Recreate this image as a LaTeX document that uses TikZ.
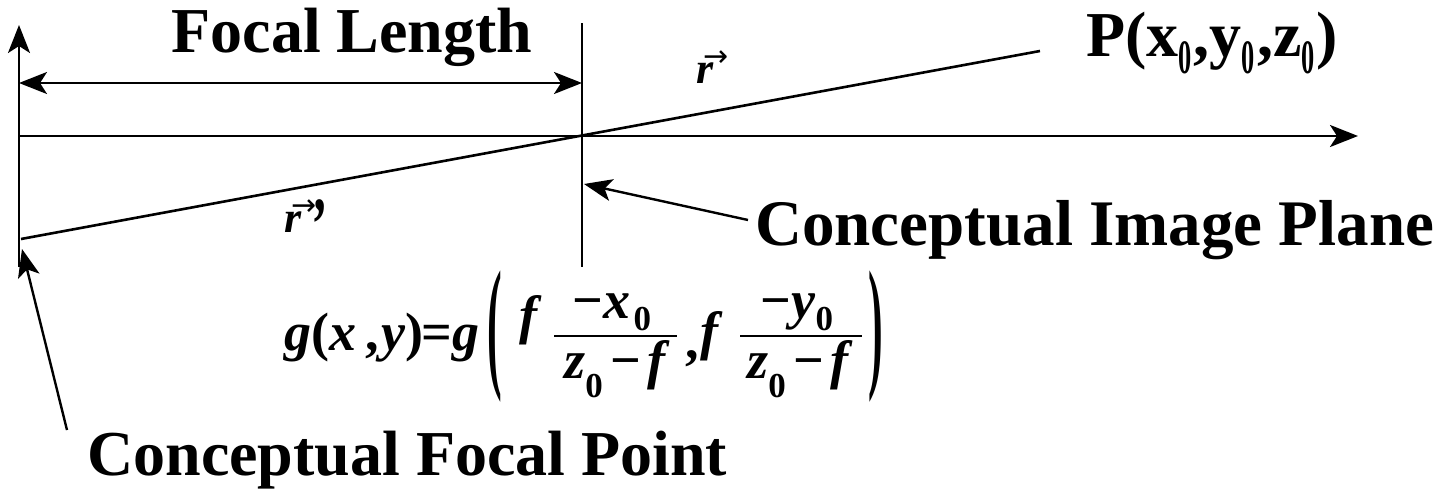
\documentclass[tikz,border=0pt]{standalone}
\usepackage{graphicx}
\usepackage{fontspec}
\setmainfont{Liberation Serif}
\newfontfamily\arrowfont{DejaVu Sans}
\usetikzlibrary{arrows.meta}
\newcommand\bi[1]{{\itshape #1}}
\newcommand\subz[2]{\raisebox{-#1}{\fontsize{#2}{#2}\selectfont 0}}
\newcommand\psub{\raisebox{-17pt}{\fontsize{48}{48}\selectfont\scalebox{0.55}[1]{0}}\hspace{2pt}}
\newcommand\vecr{\makebox[0pt][l]{\raisebox{17pt}{\kern7pt\fontsize{30}{30}\arrowfont\mdseries\upshape →}}r}
\newcommand\bigpar[1]{\scalebox{1}[3.3]{\fontsize{44}{50}\selectfont\bfseries #1}}
\begin{document}
\begin{tikzpicture}[x=1pt,y=-1pt, line width=2.6pt,
  tip/.style={-{Stealth[length=28pt,width=22pt,inset=7pt]}},
  dtip/.style={{Stealth[length=28pt,width=22pt,inset=7pt]}-{Stealth[length=28pt,width=22pt,inset=7pt]}},
  lbl/.style={inner sep=0pt, font=\fontsize{64}{70}\selectfont\bfseries},
  vlbl/.style={inner sep=0pt, font=\fontsize{44}{48}\selectfont\bfseries\itshape},
  fm/.style={inner sep=0pt, font=\fontsize{54}{60}\selectfont\bfseries},
  fbar/.style={line width=2.6pt}]
\useasboundingbox (0,0) rectangle (1448,490);
% coordinates
\coordinate (Ltop) at (19,25);
\coordinate (Lbot) at (19,267);
\coordinate (Ptop) at (582,23);
\coordinate (Pbot) at (582,267);
\coordinate (F) at (19,136);
\coordinate (axEnd) at (1358,136);
\coordinate (FLa) at (19,83);
\coordinate (FLb) at (582,83);
\coordinate (R1) at (21,239);
\coordinate (R2) at (1040,51);
\coordinate (ipTail) at (748,220);
\coordinate (ipTip) at (584,184);
\coordinate (fpTail) at (67,430);
\coordinate (fpTip) at (22,249);
\coordinate (bar1a) at (554,336);
\coordinate (bar1b) at (677,336);
\coordinate (bar2a) at (740,336);
\coordinate (bar2b) at (862,336);
% lines
\draw[tip] (Lbot) -- (Ltop);
\draw[line width=2.2pt] (Ptop) -- (Pbot);
\draw[tip] (F) -- (axEnd);
\draw[dtip] (FLa) -- (FLb);
\draw (R1) -- (R2);
\draw[tip, line width=2.4pt] (ipTail) -- (ipTip);
\draw[tip, line width=2.4pt] (fpTail) -- (fpTip);
% labels
\node[lbl, anchor=base] (fl) at (352,52) {Focal Length};
\node[lbl, anchor=base west] (pp) at (1085,56) {P(x\psub,y\psub,z\psub)};
\node[lbl, anchor=base west, font=\fontsize{65}{70}\selectfont\bfseries] (ip) at (754,245) {Conceptual Image Plane};
\node[lbl, anchor=base west] (fp) at (86,475) {Conceptual Focal Point};
\node[vlbl, anchor=base west] (rvec) at (695,83) {\vecr};
\node[vlbl, anchor=base west] (rpvec) at (283,232) {\vecr\hspace{8pt}\raisebox{-17pt}{\fontsize{50}{50}\selectfont\scalebox{1}[1.5]{’}}};
% formula
\node[fm, anchor=base west] (gxy) at (283,350) {\bi{g}(\bi{x}\hspace{9pt},\hspace{3pt}\bi{y})\hspace{-2pt}=\hspace{0pt}\bi{g}};
\node[inner sep=0pt] (lpar) at (495,337) {\bigpar{(}};
\node[fm, anchor=base west] (f1) at (518,333) {\bi{f}};
\node[fm, anchor=base] (num1) at (612,318) {−\bi{x}\hspace{3pt}\subz{12pt}{35}};
\node[fm, anchor=base] (den1) at (615,378) {\bi{z}\subz{19pt}{35}\hspace{8pt}−\hspace{6pt}\bi{f}};
\draw[fbar] (bar1a) -- (bar1b);
\node[fm, anchor=base west] (comma) at (684,358) {,};
\node[fm, anchor=base west] (f2) at (699,349) {\bi{f}};
\node[fm, anchor=base] (num2) at (797,318) {−\bi{y}\subz{12pt}{35}};
\node[fm, anchor=base] (den2) at (798,378) {\bi{z}\subz{19pt}{35}\hspace{8pt}−\hspace{6pt}\bi{f}};
\draw[fbar] (bar2a) -- (bar2b);
\node[inner sep=0pt] (rpar) at (876,337) {\bigpar{)}};
\end{tikzpicture}
\end{document}
